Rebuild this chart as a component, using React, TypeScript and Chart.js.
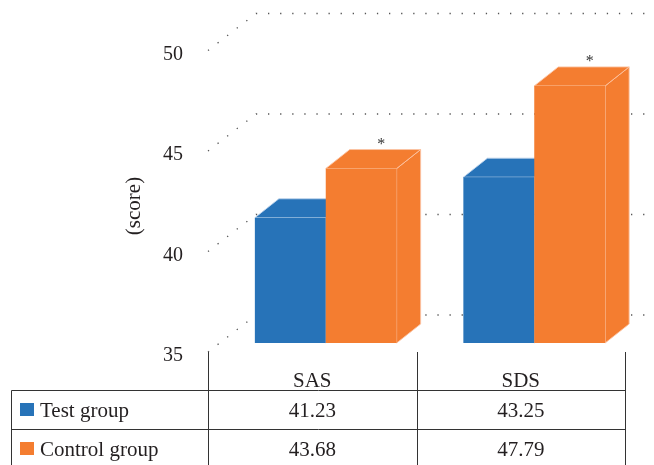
import React, { useEffect, useRef } from "react";
import { Chart, registerables } from "chart.js";

Chart.register(...registerables);

// ---- data ----
const categories = ["SAS", "SDS"];
const seriesNames = ["Test group", "Control group"];
const testGroup = [41.23, 43.25];
const controlGroup = [43.68, 47.79];
const controlMarks = ["*", "*"];
const yTicks = [35, 40, 45, 50];
const yTitle = "(score)";

// ---- style ----
const COLORS = ["#2773B8", "#F47D30"];
const EDGE = ["rgba(190,212,236,0.9)", "rgba(252,196,164,0.9)"];
const FONT = '"Liberation Serif", "Times New Roman", serif';
const TEXT = "#231f20";
const FRONT = { dx: 13.5, dy: -9 };
const DEPTH = { dx: 24, dy: -19 };
const WALL = { dx: 48, dy: -37 };

const threeD = {
  id: "threeD",
  beforeDatasetsDraw(chart: any) {
    const { ctx, chartArea: ca, scales } = chart;
    const x = scales.x;
    const y = scales.y;
    ctx.save();

    // dotted walls
    ctx.strokeStyle = "#555";
    ctx.lineWidth = 1.3;
    ctx.setLineDash([1.3, 10.8]);
    yTicks.forEach((v) => {
      const py = y.getPixelForValue(v);
      ctx.beginPath();
      ctx.moveTo(ca.left, py);
      ctx.lineTo(ca.left + WALL.dx, py + WALL.dy);
      ctx.lineTo(ca.right + WALL.dx + 40, py + WALL.dy);
      ctx.stroke();
    });
    ctx.setLineDash([]);

    // 3D bars
    const n = chart.data.labels.length;
    for (let i = 0; i < n; i++) {
      chart.data.datasets.forEach((ds: any, di: number) => {
        const bar = chart.getDatasetMeta(di).data[i];
        const p = bar.getProps(["x", "y", "base", "width"], true);
        const l = p.x - p.width / 2 + FRONT.dx;
        const r = p.x + p.width / 2 + FRONT.dx;
        const t = p.y + FRONT.dy;
        const b = p.base + FRONT.dy;
        ctx.fillStyle = COLORS[di];
        ctx.strokeStyle = EDGE[di];
        ctx.lineWidth = 1;
        // side
        ctx.beginPath();
        ctx.moveTo(r, t);
        ctx.lineTo(r + DEPTH.dx, t + DEPTH.dy);
        ctx.lineTo(r + DEPTH.dx, b + DEPTH.dy);
        ctx.lineTo(r, b);
        ctx.closePath();
        ctx.fill();
        ctx.stroke();
        // top
        ctx.beginPath();
        ctx.moveTo(l, t);
        ctx.lineTo(l + DEPTH.dx, t + DEPTH.dy);
        ctx.lineTo(r + DEPTH.dx, t + DEPTH.dy);
        ctx.lineTo(r, t);
        ctx.closePath();
        ctx.fill();
        ctx.stroke();
        // front
        ctx.fillRect(l, t, r - l, b - t);
        if (di === 1 && controlMarks[i]) {
          ctx.fillStyle = "#333";
          ctx.font = `16px ${FONT}`;
          ctx.textAlign = "center";
          ctx.textBaseline = "middle";
          ctx.fillText(controlMarks[i], p.x + FRONT.dx + 20, t + DEPTH.dy - 5);
        }
      });
    }

    // data table
    const rowTop = 390.5;
    const rowMid = 429.5;
    const rowBot = 468.5;
    const tableLeft = 11.5;
    const mid = Math.round((x.getPixelForValue(0) + x.getPixelForValue(1)) / 2) + 0.5;
    const vx = [Math.round(ca.left) + 0.5, mid, Math.round(ca.right) + 0.5];
    ctx.strokeStyle = "#333";
    ctx.lineWidth = 1;
    ctx.beginPath();
    vx.forEach((vv) => {
      ctx.moveTo(vv, ca.bottom);
      ctx.lineTo(vv, rowBot);
    });
    ctx.moveTo(tableLeft, rowTop);
    ctx.lineTo(tableLeft, rowBot);
    [rowTop, rowMid, rowBot].forEach((ry) => {
      ctx.moveTo(tableLeft, ry);
      ctx.lineTo(vx[2], ry);
    });
    ctx.stroke();

    const rows = [testGroup, controlGroup];
    const centers = [(rowTop + rowMid) / 2, (rowMid + rowBot) / 2];
    ctx.font = `21px ${FONT}`;
    ctx.textBaseline = "middle";
    rows.forEach((vals, ri) => {
      const cy = centers[ri];
      ctx.fillStyle = COLORS[ri];
      ctx.fillRect(20, cy - 7, 14, 13);
      ctx.fillStyle = TEXT;
      ctx.textAlign = "left";
      ctx.fillText(seriesNames[ri], 40, cy + 1);
      ctx.textAlign = "center";
      vals.forEach((v, ci) => {
        ctx.fillText(v.toFixed(2), x.getPixelForValue(ci), cy + 1);
      });
    });

    // axis title
    ctx.save();
    ctx.translate(134, 206);
    ctx.rotate(-Math.PI / 2);
    ctx.textAlign = "center";
    ctx.textBaseline = "middle";
    ctx.fillStyle = TEXT;
    ctx.fillText(yTitle, 0, 0);
    ctx.restore();

    ctx.restore();
    return false;
  },
};

export default function App() {
  const ref = useRef<HTMLCanvasElement>(null);
  useEffect(() => {
    document.body.style.margin = "0";
    const chart = new Chart(ref.current!, {
      type: "bar",
      data: {
        labels: categories,
        datasets: [
          { label: seriesNames[0], data: testGroup, backgroundColor: COLORS[0], base: 35 },
          { label: seriesNames[1], data: controlGroup, backgroundColor: COLORS[1], base: 35 },
        ],
      },
      options: {
        responsive: false,
        animation: false,
        devicePixelRatio: 1,
        layout: { padding: { top: 50.5, left: 0, right: 29, bottom: 0 } },
        plugins: { legend: { display: false }, tooltip: { enabled: false } },
        datasets: { bar: { categoryPercentage: 0.68, barPercentage: 1 } } as any,
        scales: {
          x: {
            grid: { display: false },
            border: { display: false },
            ticks: { font: { family: FONT, size: 21 }, color: TEXT, padding: 9 },
            afterFit: (s: any) => {
              s.height = 113;
            },
          },
          y: {
            min: 35,
            max: 50,
            grid: { display: false, drawTicks: false },
            border: { display: false },
            ticks: { stepSize: 5, font: { family: FONT, size: 20 }, color: TEXT, padding: 25, labelOffset: 4 },
            afterFit: (s: any) => {
              s.width = 208;
            },
          },
        },
      } as any,
      plugins: [threeD as any],
    });
    return () => chart.destroy();
  }, []);
  return (
    <div style={{ width: 654, height: 465 }}>
      <canvas ref={ref} width={654} height={465} style={{ display: "block" }} />
    </div>
  );
}
